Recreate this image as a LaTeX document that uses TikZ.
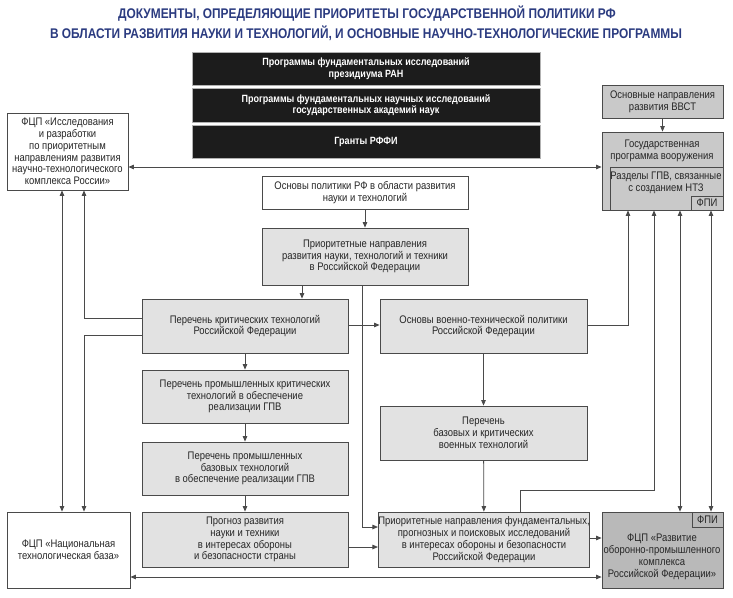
\documentclass[tikz,border=0pt]{standalone}
\usepackage{fontspec}
\setmainfont{Liberation Sans}[FakeStretch=0.86]
\newfontfamily\titlefont{Liberation Sans}[FakeStretch=0.85]
\usetikzlibrary{arrows.meta,calc}
\definecolor{ttl}{HTML}{2B3B80}
\definecolor{edge}{HTML}{4A4A4A}
\definecolor{lgray}{HTML}{E2E2E2}
\definecolor{mgray}{HTML}{C9C9C9}
\definecolor{dgray}{HTML}{B9B9B9}
\definecolor{blk}{HTML}{1C1C1C}
\newcommand{\bx}[7]{\node[#2, minimum width={#5pt-#3pt}, minimum height={#6pt-#4pt}] (#1) at ({(#3+#5)/2},{(#4+#6)/2}) {#7};}
\begin{document}
\begin{tikzpicture}[x=1pt,y=-1pt,
  base/.style={inner sep=0pt, align=center, font=\fontsize{11}{11.8}\selectfont, text=black!85},
  wbox/.style={base, draw=edge, line width=0.8pt, fill=white},
  gbox/.style={base, draw=edge, line width=0.8pt, fill=lgray},
  mbox/.style={base, draw=edge, line width=0.8pt, fill=mgray},
  dbox/.style={base, draw=edge, line width=0.8pt, fill=dgray},
  kbox/.style={base, draw=black!30, line width=0.8pt, fill=blk, text=white, font=\bfseries\fontsize{10.5}{11.4}\selectfont},
  ttxt/.style={inner sep=0pt, text=ttl, font=\titlefont\bfseries\fontsize{14}{16}\selectfont},
  lab/.style={base},
  conn/.style={draw=edge, line width=0.8pt},
  arr/.style={conn, -{Triangle[length=5.5pt,width=4.5pt]}},
  arrb/.style={conn, {Triangle[length=5.5pt,width=4.5pt]}-{Triangle[length=5.5pt,width=4.5pt]}}
]
\path[use as bounding box, fill=white] (0,0) rectangle (733,597);

% title
\node[ttxt] (t1) at (367,14) {ДОКУМЕНТЫ, ОПРЕДЕЛЯЮЩИЕ ПРИОРИТЕТЫ ГОСУДАРСТВЕННОЙ ПОЛИТИКИ РФ};
\node[ttxt] (t2) at (366,33) {В ОБЛАСТИ РАЗВИТИЯ НАУКИ И ТЕХНОЛОГИЙ, И ОСНОВНЫЕ НАУЧНО-ТЕХНОЛОГИЧЕСКИЕ ПРОГРАММЫ};

% black boxes
\bx{b1}{kbox}{192}{52}{540}{85}{Программы фундаментальных исследований\\президиума РАН}
\bx{b2}{kbox}{192}{88}{540}{122}{Программы фундаментальных научных исследований\\государственных академий наук}
\bx{b3}{kbox}{192}{125}{540}{158}{Гранты РФФИ}

% left
\bx{fcpL}{wbox}{7}{113}{128}{190}{ФЦП «Исследования\\и разработки\\по приоритетным\\направлениям развития\\научно-технологического\\комплекса России»}
\bx{ntb}{wbox}{7}{512}{130}{588}{ФЦП «Национальная\\технологическая база»}

% right
\bx{vvst}{mbox}{602}{85}{723}{118}{Основные направления\\развития ВВСТ}
\bx{gpv}{mbox}{602}{132}{723}{210}{}
\node[lab] (gpvt) at (662,151) {Государственная\\программа вооружения};
\bx{gpvin}{mbox}{610}{167}{723}{210}{}
\node[lab] (gpvint) at (666,183) {Разделы ГПВ, связанные\\с созданием НТЗ};
\bx{fpi1}{mbox}{691}{196}{723}{210}{ФПИ}
\bx{opk}{dbox}{602}{512}{723}{588}{}
\node[lab] (opkt) at (662,557) {ФЦП «Развитие\\оборонно-промышленного\\комплекса\\Российской Федерации»};
\bx{fpi2}{dbox}{692}{512}{723}{527}{ФПИ}

% center
\bx{osn}{wbox}{262}{176}{468}{209}{Основы политики РФ в области развития\\науки и технологий}
\bx{prior}{gbox}{262}{228}{468}{285}{Приоритетные направления\\развития науки, технологий и техники\\в Российской Федерации}
\bx{kt}{gbox}{142}{299}{348}{353}{Перечень критических технологий\\Российской Федерации}
\bx{ovtp}{gbox}{380}{299}{587}{353}{Основы военно-технической политики\\Российской Федерации}
\bx{ppkt}{gbox}{142}{370}{348}{423}{Перечень промышленных критических\\технологий в обеспечение\\реализации ГПВ}
\bx{pbkvt}{gbox}{380}{406}{587}{460}{Перечень\\базовых и критических\\военных технологий}
\bx{ppbt}{gbox}{142}{442}{348}{495}{Перечень промышленных\\базовых технологий\\в обеспечение реализации ГПВ}
\bx{prog}{gbox}{142}{512}{348}{567}{Прогноз развития\\науки и техники\\в интересах обороны\\и безопасности страны}
\bx{pnfi}{gbox}{380}{512}{588}{567}{Приоритетные направления фундаментальных,\\прогнозных и поисковых исследований\\в интересах обороны и безопасности\\Российской Федерации}

% helper coordinates
\coordinate (cx62) at (62,0);
\coordinate (cx84) at (84,0);
\coordinate (cx302) at (302,0);
\coordinate (cx362) at (362,0);
\coordinate (cx520) at (520,0);
\coordinate (cx628) at (628,0);
\coordinate (cx654) at (654,0);
\coordinate (cx680) at (680,0);
\coordinate (cx711) at (711,0);
\coordinate (ry167) at (0,167);
\coordinate (ry318) at (0,318);
\coordinate (ry325) at (0,325);
\coordinate (ry335) at (0,335);
\coordinate (ry490) at (0,490);
\coordinate (ry527) at (0,527);
\coordinate (ry538) at (0,538);
\coordinate (ry547) at (0,547);
\coordinate (ry577) at (0,577);

% connectors
\draw[arr] (osn) -- (prior);
\draw[arr] (prior.south -| cx302) -- (kt.north -| cx302);
\draw[arr] (prior.south -| cx362) |- (pnfi.west |- ry527);
\draw[arr] (kt.east |- ry325) -- (ovtp.west |- ry325);
\draw[arr] (kt) -- (ppkt);
\draw[arr] (ppkt) -- (ppbt);
\draw[arr] (ppbt) -- (prog);
\draw[arr] (prog.east |- ry547) -- (pnfi.west |- ry547);
\draw[arr] (ovtp) -- (pbkvt);
\draw[arr] (pbkvt) -- (pnfi);
\draw[arr] (ovtp.east |- ry325) -| (gpv.south -| cx628);
\draw[arr] (pnfi.north -| cx520) |- (cx654 |- ry490) -- (gpv.south -| cx654);
\draw[arr] (pnfi.east |- ry538) -- (opk.west |- ry538);
\draw[arrb] (gpv.south -| cx680) -- (opk.north -| cx680);
\draw[arrb] (gpv.south -| cx711) -- (opk.north -| cx711);
\draw[arr] (vvst) -- (gpv);
\draw[arrb] (fcpL.east |- ry167) -- (gpv.west |- ry167);
\draw[arrb] (fcpL.south -| cx62) -- (ntb.north -| cx62);
\draw[arr] (kt.west |- ry318) -| (fcpL.south -| cx84);
\draw[arr] (kt.west |- ry335) -| (ntb.north -| cx84);
\draw[arrb] (ntb.east |- ry577) -- (opk.west |- ry577);
\end{tikzpicture}
\end{document}
